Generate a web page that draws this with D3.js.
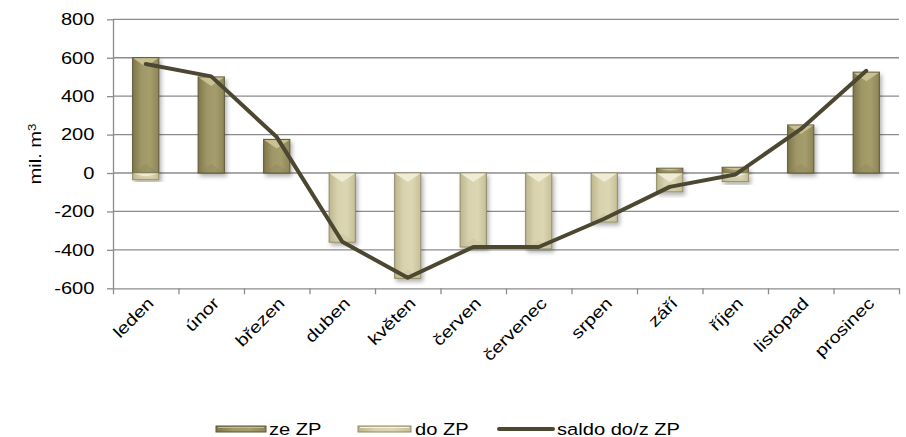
<!DOCTYPE html>
<html>
<head>
<meta charset="utf-8">
<script src="https://cdn.jsdelivr.net/npm/d3@7"></script>
<style>
	body { margin: 0; background: #fff; }
	text { font-family: 'Liberation Sans', Arial, sans-serif; fill: #000; }
</style>
</head>
<body>
<div id="chart"></div>
<script>
/*globals d3*/
'use strict';

// data (mil. m3)
const months = ['leden', 'únor', 'březen', 'duben', 'květen', 'červen',
	'červenec', 'srpen', 'září', 'říjen', 'listopad', 'prosinec'];
const zeZP = [600, 500, 175, 0, 0, 0, 0, 0, 25, 30, 250, 525];
const doZP = [-35, 0, 0, -360, -548, -385, -395, -255, -98, -45, 0, 0];
const saldo = [567, 503, 187, -358, -545, -385, -385, -238, -72, -8, 228, 532];
const yTicks = [-600, -400, -200, 0, 200, 400, 600, 800];
const legendItems = ['ze ZP', 'do ZP', 'saldo do/z ZP'];

const W = 906, H = 437;
const plot = { left: 113, right: 899, top: 19.3, bottom: 288.3 };
const gridColor = '#8c8c8c';
const lineColor = '#4b4731';
const fontSize = 16.5;
const stretch = 1.22;

let svg;

function drawSvg() {
	d3.selectAll('#chart svg').remove();
	svg = d3.select('#chart').append('svg')
		.attr('width', W)
		.attr('height', H);

	const defs = svg.append('defs');
	// horizontal shading of the columns
	makeGradient(defs, 'darkGrad', ['#7f774b', '#9f9766', '#a59d6c', '#8d8556']);
	makeGradient(defs, 'lightGrad', ['#bdb68f', '#d8d2ae', '#dcd6b3', '#c6bf99']);
	const f = defs.append('filter').attr('id', 'shadow')
		.attr('x', '-30%').attr('y', '-30%').attr('width', '160%').attr('height', '160%');
	f.append('feDropShadow')
		.attr('dx', 2).attr('dy', 3).attr('stdDeviation', 2)
		.attr('flood-color', '#000').attr('flood-opacity', 0.3);
}

function makeGradient(defs, id, stops) {
	const g = defs.append('linearGradient').attr('id', id)
		.attr('x1', '0%').attr('x2', '100%').attr('y1', '0%').attr('y2', '0%');
	stops.forEach(function (c, i) {
		g.append('stop').attr('offset', (i / (stops.length - 1) * 100) + '%').attr('stop-color', c);
	});
}

function stretchedText(parent, str, x, y, rot, anchor) {
	return parent.append('text')
		.attr('transform', 'translate(' + x + ',' + y + ') rotate(' + rot + ') scale(' + stretch + ',1)')
		.style('font-size', fontSize + 'px')
		.style('text-anchor', anchor)
		.text(str);
}

// one bevelled column between two pixel positions
function drawColumn(g, x0, w, yA, yB, light) {
	const top = Math.min(yA, yB), bot = Math.max(yA, yB);
	const h = bot - top;
	if (h < 0.5) { return; }
	const cg = g.append('g').attr('filter', 'url(#shadow)');
	cg.append('rect')
		.attr('x', x0).attr('y', top).attr('width', w).attr('height', h)
		.attr('fill', light ? 'url(#lightGrad)' : 'url(#darkGrad)')
		.attr('stroke', light ? '#8f8963' : '#5c5636').attr('stroke-width', 1);
	const bev = Math.min(9, h / 2);
	cg.append('path')
		.attr('d', 'M' + (x0 + 0.5) + ',' + (top + 0.5) + 'L' + (x0 + w - 0.5) + ',' + (top + 0.5) + 'L' + (x0 + w / 2) + ',' + (top + bev) + 'Z')
		.attr('fill', light ? '#f1edd6' : '#cbc393').attr('opacity', 0.95);
	cg.append('path')
		.attr('d', 'M' + (x0 + 0.5) + ',' + (bot - 0.5) + 'L' + (x0 + w - 0.5) + ',' + (bot - 0.5) + 'L' + (x0 + w / 2) + ',' + (bot - bev) + 'Z')
		.attr('fill', light ? '#c4bd97' : '#8b8355').attr('opacity', 0.35);
}

function renderChart() {
	drawSvg();

	const y = d3.scaleLinear().domain([-600, 800]).range([plot.bottom, plot.top]);
	const x = d3.scaleBand().domain(months).range([plot.left, plot.right]).paddingInner(0.6).paddingOuter(0.3);
	const xEdge = d3.scaleLinear().domain([0, months.length]).range([plot.left, plot.right]);

	// horizontal grid
	svg.append('g')
		.selectAll('line').data(yTicks.filter(function (d) { return d !== -600; }))
		.join('line')
		.attr('x1', plot.left).attr('x2', plot.right)
		.attr('y1', function (d) { return y(d); }).attr('y2', function (d) { return y(d); })
		.style('stroke', gridColor).style('stroke-width', 1.3);

	// y axis
	const yAxis = svg.append('g')
		.attr('transform', 'translate(' + plot.left + ',0)')
		.call(d3.axisLeft(y).tickValues(yTicks).tickSize(6).tickSizeOuter(0).tickFormat(''));
	yAxis.selectAll('line, path').style('stroke', gridColor).style('stroke-width', 1.3);
	yTicks.forEach(function (t) {
		stretchedText(svg, t, 94.5, y(t), 0, 'end').attr('dy', '0.35em');
	});

	// x axis
	const xAxis = svg.append('g')
		.attr('transform', 'translate(0,' + plot.bottom + ')')
		.call(d3.axisBottom(xEdge).tickValues(d3.range(months.length + 1)).tickSize(6).tickSizeOuter(0).tickFormat(''));
	xAxis.selectAll('line, path').style('stroke', gridColor).style('stroke-width', 1.3);
	months.forEach(function (m) {
		const cx = x(m) + x.bandwidth() / 2;
		stretchedText(svg, m, cx + 9, plot.bottom + 16, -45, 'end');
	});

	// axis title
	const title = svg.append('text')
		.attr('transform', 'translate(41,154) rotate(-90) scale(' + stretch + ',1)')
		.style('font-size', fontSize + 'px')
		.style('text-anchor', 'middle');
	title.append('tspan').text('mil. m');
	title.append('tspan').attr('dy', '-0.45em').style('font-size', '11px').text('3');

	// stacked columns
	const bars = svg.append('g');
	months.forEach(function (m, i) {
		drawColumn(bars, x(m), x.bandwidth(), y(0), y(zeZP[i]), false);
		drawColumn(bars, x(m), x.bandwidth(), y(0), y(doZP[i]), true);
	});

	// saldo line
	const line = d3.line()
		.x(function (d, i) { return x(months[i]) + x.bandwidth() / 2; })
		.y(function (d) { return y(d); });
	svg.append('path')
		.datum(saldo)
		.attr('d', line)
		.attr('fill', 'none')
		.style('stroke', lineColor).style('stroke-width', 4)
		.style('stroke-linejoin', 'round').style('stroke-linecap', 'round');

	drawLegend();
}

function drawLegend() {
	const lg = svg.append('g');
	const ly = 429;
	const sw = [216, 358, 499];
	// ze ZP
	lg.append('rect').attr('x', sw[0]).attr('y', ly - 3).attr('width', 50).attr('height', 6)
		.attr('fill', 'url(#darkGrad)').attr('stroke', '#5c5636');
	lg.append('line').attr('x1', sw[0] + 2).attr('x2', sw[0] + 48).attr('y1', ly - 1.5).attr('y2', ly - 1.5)
		.style('stroke', '#c6be8d').style('stroke-width', 1.2);
	// do ZP
	lg.append('rect').attr('x', sw[1]).attr('y', ly - 3).attr('width', 53).attr('height', 6)
		.attr('fill', 'url(#lightGrad)').attr('stroke', '#8f8963');
	lg.append('line').attr('x1', sw[1] + 2).attr('x2', sw[1] + 51).attr('y1', ly - 1.5).attr('y2', ly - 1.5)
		.style('stroke', '#f7f4e4').style('stroke-width', 1.2);
	// saldo
	lg.append('line').attr('x1', sw[2]).attr('x2', sw[2] + 54).attr('y1', ly).attr('y2', ly)
		.style('stroke', lineColor).style('stroke-width', 4).style('stroke-linecap', 'round');

	const tx = [269, 415, 557];
	legendItems.forEach(function (t, i) {
		stretchedText(lg, t, tx[i], ly, 0, 'start').attr('dy', '0.35em');
	});
}

renderChart();
</script>
</body>
</html>
